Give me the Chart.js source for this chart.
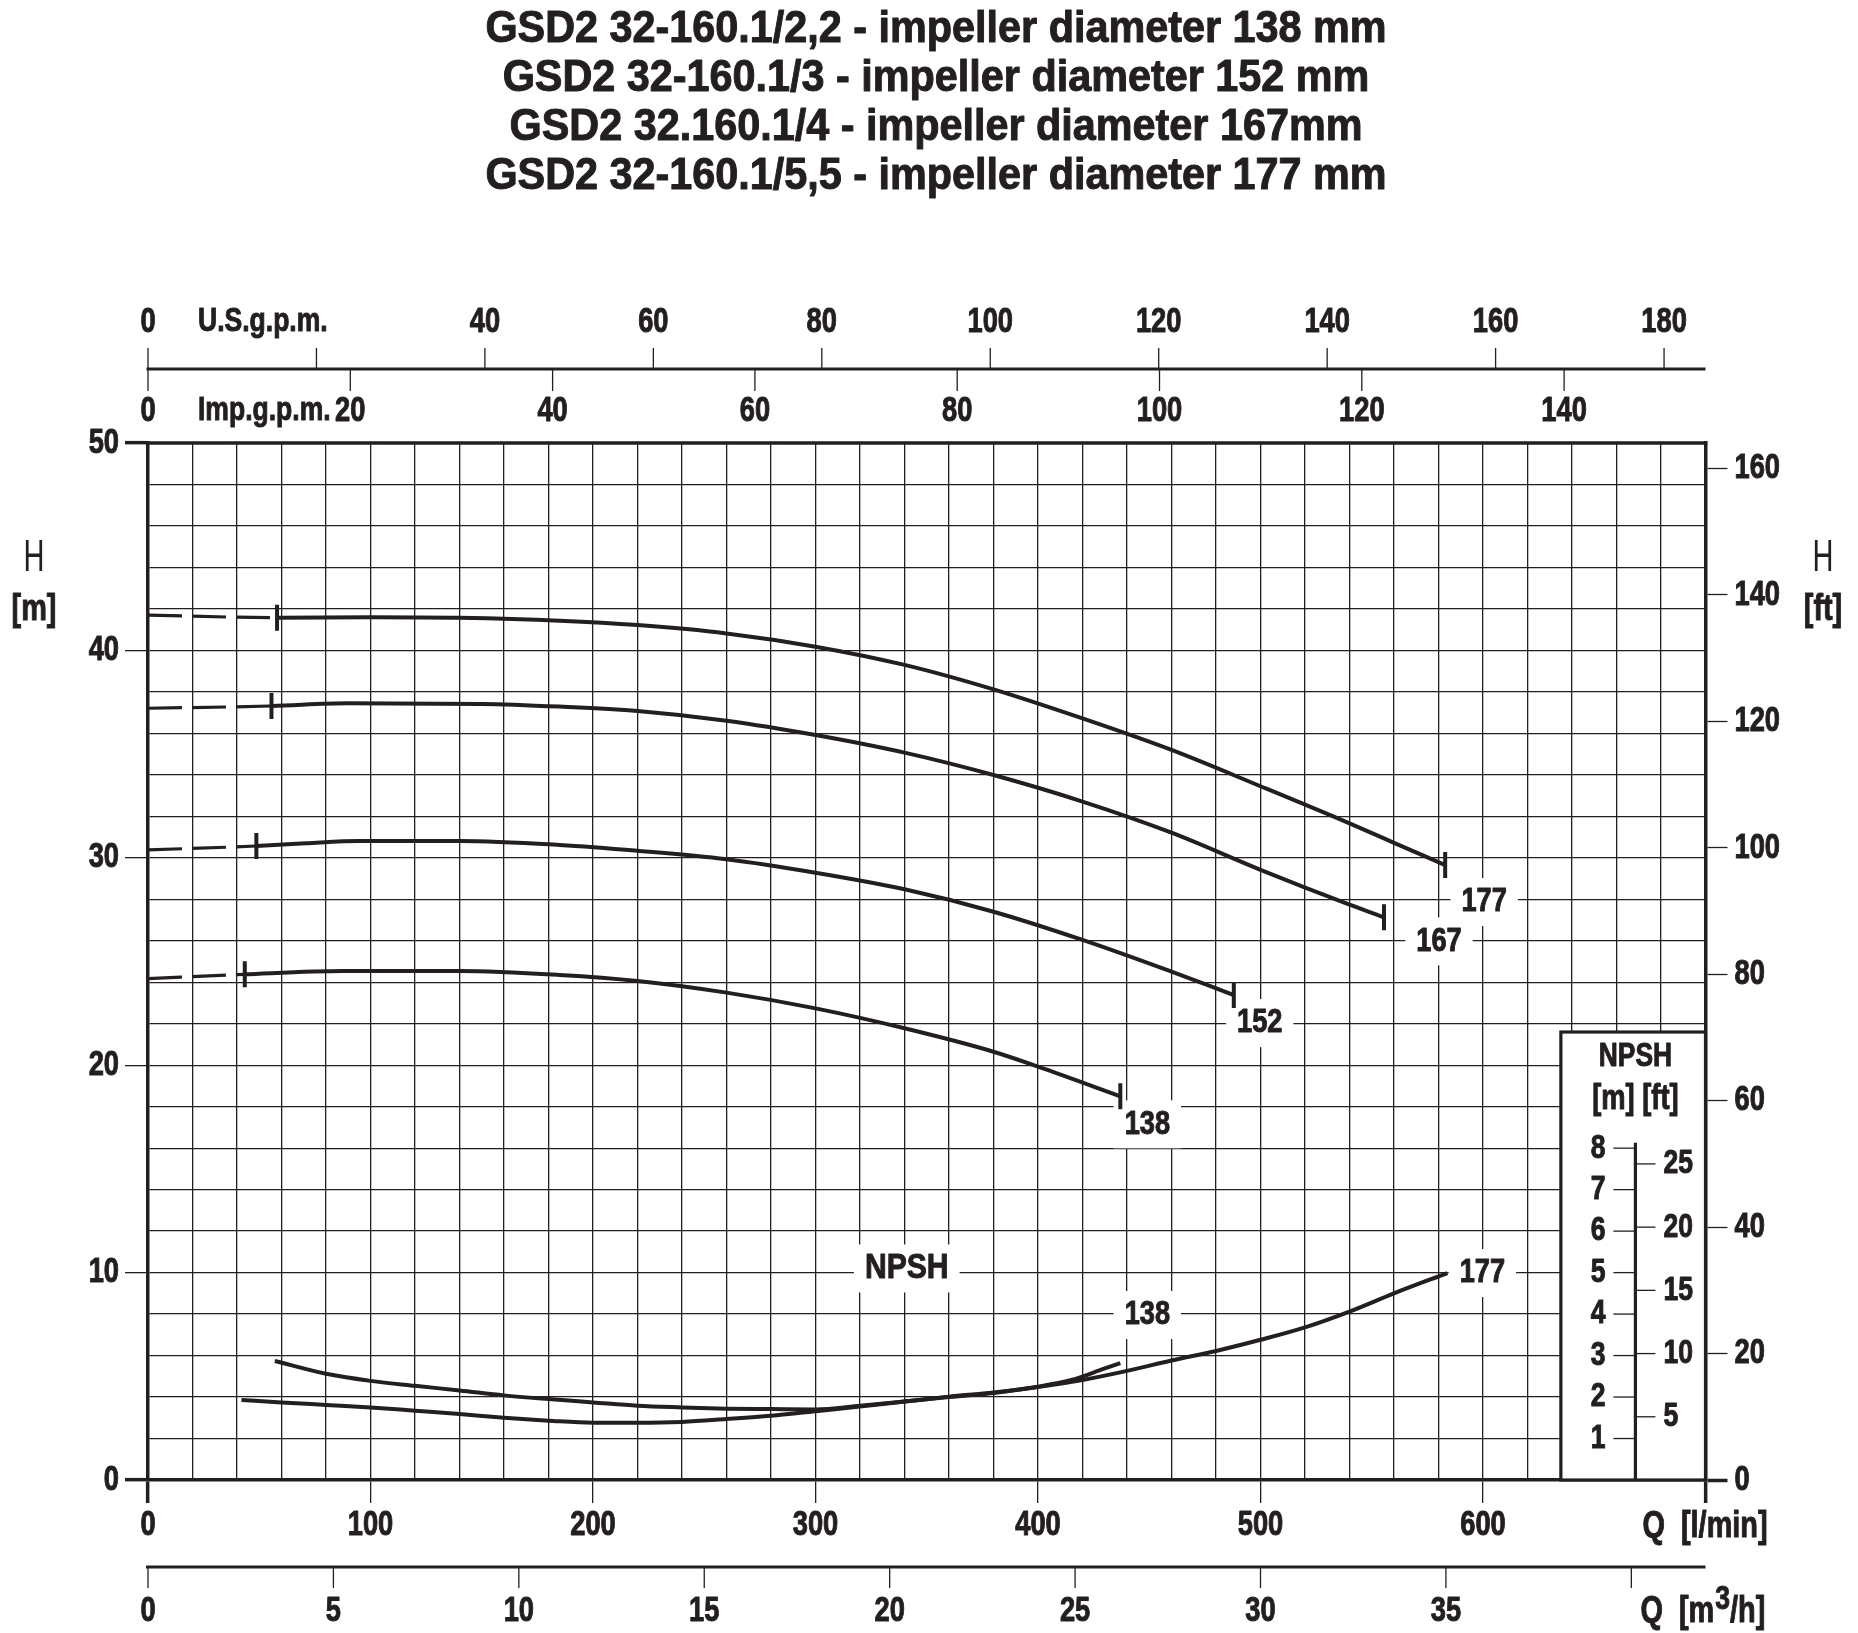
<!DOCTYPE html>
<html>
<head>
<meta charset="utf-8">
<title>GSD2 32-160.1 - pump curves</title>
<script src="https://cdn.jsdelivr.net/npm/chart.js@4.4.1/dist/chart.umd.min.js"></script>
<style>
  html, body { margin: 0; padding: 0; background: #fff; }
  #wrap { width: 1858px; height: 1633px; }
</style>
</head>
<body>
<div id="wrap"><canvas id="pumpChart" width="1858" height="1633"></canvas></div>
<script>
// --- DATA --- //
const titleLines = [
  "GSD2 32-160.1/2,2 - impeller diameter 138 mm",
  "GSD2 32-160.1/3 - impeller diameter 152 mm",
  "GSD2 32.160.1/4 - impeller diameter 167mm",
  "GSD2 32-160.1/5,5 - impeller diameter 177 mm"
];

// head curves: Q [l/min] -> H [m]  (first segment = dashed part)
const q177 = [0, 58, 100, 140, 185, 220, 260, 300, 340, 380, 420, 460, 500, 540, 560, 583];
const h177 = [41.7, 41.58, 41.6, 41.57, 41.43, 41.22, 40.82, 40.18, 39.3, 38.12, 36.72, 35.2, 33.45, 31.66, 30.72, 29.65];
const q167 = [0, 55.5, 90, 150, 185, 220, 260, 300, 340, 380, 420, 460, 500, 540, 555.5];
const h167 = [37.21, 37.32, 37.45, 37.42, 37.29, 37.08, 36.61, 35.92, 35.07, 33.99, 32.71, 31.21, 29.42, 27.74, 27.13];
const q152 = [0, 48.7, 71, 95, 140, 185, 220, 260, 300, 340, 380, 420, 460, 488];
const h152 = [30.38, 30.57, 30.7, 30.81, 30.81, 30.62, 30.34, 29.93, 29.28, 28.48, 27.4, 26.04, 24.51, 23.38];
const q138 = [0, 43.5, 88, 140, 185, 220, 260, 300, 340, 380, 400, 437];
const h138 = [24.17, 24.38, 24.54, 24.54, 24.35, 24.06, 23.5, 22.74, 21.78, 20.65, 19.93, 18.5];

// NPSH curves: Q [l/min] -> NPSH [m]
const qNpsh177 = [57, 80, 100, 120, 140, 160, 180, 200, 220, 240, 260, 280, 300, 320, 340, 360, 380, 400, 420, 440, 460, 480, 500, 520, 540, 560, 584];
const npsh177 = [2.87, 2.56, 2.39, 2.27, 2.16, 2.04, 1.95, 1.87, 1.79, 1.75, 1.72, 1.71, 1.7, 1.79, 1.89, 2.0, 2.1, 2.24, 2.41, 2.63, 2.88, 3.11, 3.38, 3.68, 4.06, 4.5, 4.99];
const qNpsh138 = [42, 60, 80, 100, 120, 140, 160, 180, 200, 220, 240, 260, 280, 300, 320, 340, 360, 380, 400, 415, 430, 437];
const npsh138 = [1.93, 1.87, 1.81, 1.75, 1.67, 1.59, 1.5, 1.43, 1.38, 1.38, 1.4, 1.47, 1.55, 1.66, 1.77, 1.89, 2.01, 2.11, 2.25, 2.41, 2.69, 2.82];

// secondary axes
const usGpmTicks = [0, 20, 40, 60, 80, 100, 120, 140, 160, 180];
const impGpmTicks = [0, 20, 40, 60, 80, 100, 120, 140];
const m3hTicks = [0, 5, 10, 15, 20, 25, 30, 35, 40];
const npshMTicks = [1, 2, 3, 4, 5, 6, 7, 8];
const npshFtTicks = [5, 10, 15, 20, 25];

const L_PER_USGAL = 3.78541;
const L_PER_IMPGAL = 4.54609;
const M_PER_FT = 0.3048;

// --- STYLE --- //
const INK = "#231f20";
const FAMILY = '"Liberation Sans", Arial, sans-serif';
const SQ = 0.78;               // horizontal squeeze -> condensed look
const fnt = (size, weight) => (weight || "bold") + " " + size + "px " + FAMILY;

// label offsets from the curve end point (px)
const headLabelOffset = { "177": [39, 37], "167": [55, 24], "152": [26, 28], "138": [27, 28] };
const npshLabelOffset = { "177": [35, 0], "138": [27, -48] };

function seg(ctx, x1, y1, x2, y2, w) {
  ctx.beginPath();
  ctx.lineWidth = w;
  ctx.moveTo(x1, y1);
  ctx.lineTo(x2, y2);
  ctx.stroke();
}

// condensed text: scaled horizontally around the anchor, bold ones a bit heavier
function txt(ctx, s, x, y, align, f, sq) {
  ctx.save();
  ctx.font = f;
  ctx.textAlign = align;
  ctx.textBaseline = "middle";
  ctx.fillStyle = INK;
  ctx.strokeStyle = INK;
  ctx.lineJoin = "round";
  ctx.translate(x, y);
  ctx.scale(sq || SQ, 1);
  ctx.fillText(s, 0, 0);
  if (f.indexOf("bold") === 0) {
    ctx.lineWidth = 1;
    ctx.strokeText(s, 0, 0);
  }
  ctx.restore();
}

function txtWidth(ctx, s, f, sq) {
  ctx.save();
  ctx.font = f;
  const w = ctx.measureText(s).width * (sq || SQ);
  ctx.restore();
  return w;
}

function maskedTxt(ctx, s, x, y, f, sq) {
  const w = txtWidth(ctx, s, f, sq);
  ctx.save();
  ctx.fillStyle = "#fff";
  ctx.fillRect(x - w / 2 - 11, y - 24, w + 22, 48);
  ctx.restore();
  txt(ctx, s, x, y, "center", f, sq);
}

function headDataset(label, q, h) {
  const last = q.length - 1;
  return {
    label: label,
    data: q.map((x, i) => ({ x: x, y: h[i] })),
    yAxisID: "y",
    borderColor: INK,
    borderWidth: 4,
    fill: false,
    cubicInterpolationMode: "monotone",
    segment: {
      borderDash: c => c.p0DataIndex === 0 ? [34, 10] : undefined,
      borderWidth: c => c.p0DataIndex === 0 ? 3.2 : 4
    },
    pointStyle: "line",
    pointRotation: 90,
    pointRadius: c => (c.dataIndex === 1 || c.dataIndex === last) ? 13 : 0,
    pointHoverRadius: 0,
    pointBorderWidth: 4,
    pointBorderColor: INK,
    pointBackgroundColor: INK
  };
}

function npshDataset(label, q, n) {
  return {
    label: "NPSH " + label,
    data: q.map((x, i) => ({ x: x, y: n[i] })),
    yAxisID: "npsh",
    borderColor: INK,
    borderWidth: 4,
    fill: false,
    cubicInterpolationMode: "monotone",
    pointRadius: 0,
    pointHoverRadius: 0
  };
}

// --- DECOR PLUGIN (title, tick labels, extra axes, NPSH box) --- //
const pumpDecor = {
  id: "pumpDecor",
  beforeDatasetsDraw(chart) {
    const ctx = chart.ctx;
    const xs = chart.scales.x, ys = chart.scales.y, ns = chart.scales.npsh;
    ctx.save();
    ctx.strokeStyle = INK;

    // labels at the end of the curves
    chart.data.datasets.forEach(ds => {
      const p = ds.data[ds.data.length - 1];
      if (ds.yAxisID === "y") {
        const o = headLabelOffset[ds.label];
        maskedTxt(ctx, ds.label, xs.getPixelForValue(p.x) + o[0], ys.getPixelForValue(p.y) + o[1], fnt(34), 0.8);
      } else {
        const key = ds.label.replace("NPSH ", "");
        const o = npshLabelOffset[key];
        maskedTxt(ctx, key, xs.getPixelForValue(p.x) + o[0], ns.getPixelForValue(p.y) + o[1], fnt(34), 0.8);
      }
    });
    maskedTxt(ctx, "NPSH", xs.getPixelForValue(341), ys.getPixelForValue(10.2), fnt(35), 0.86);

    // NPSH inset box
    const bx = xs.getPixelForValue(635), by = ys.getPixelForValue(21.6);
    const br = chart.chartArea.right, bb = chart.chartArea.bottom;
    ctx.fillStyle = "#fff";
    ctx.fillRect(bx, by, br - bx, bb - by);
    ctx.strokeStyle = INK;
    ctx.lineWidth = 3.2;
    ctx.strokeRect(bx, by, br - bx, bb - by);
    const ax = xs.getPixelForValue(668.5);
    seg(ctx, ax, ns.getPixelForValue(8.13), ax, bb, 3.2);
    txt(ctx, "NPSH", ax, by + 25, "center", fnt(33), 0.8);
    txt(ctx, "[m] [ft]", ax, by + 67, "center", fnt(35));
    npshMTicks.forEach(v => {
      const y = ns.getPixelForValue(v);
      seg(ctx, ax - 22, y, ax, y, 1.3);
      txt(ctx, String(v), ax - 30, y, "right", fnt(34));
    });
    npshFtTicks.forEach(v => {
      const y = ns.getPixelForValue(v * M_PER_FT);
      seg(ctx, ax, y, ax + 20, y, 1.3);
      txt(ctx, String(v), ax + 28, y, "left", fnt(34));
    });
    ctx.restore();
  },
  afterDraw(chart) {
    const ctx = chart.ctx;
    const xs = chart.scales.x, ys = chart.scales.y, fs = chart.scales.ft;
    const a = chart.chartArea;
    ctx.save();
    ctx.strokeStyle = INK;

    // title
    titleLines.forEach((s, i) => txt(ctx, s, chart.width / 2 + 7, 30 + i * 49, "center", fnt(44), 0.94));

    // main axis tick labels
    ys.ticks.forEach(t => {
      if (t.value % 10 === 0) txt(ctx, String(t.value), a.left - 29, ys.getPixelForValue(t.value), "right", fnt(35));
    });
    xs.ticks.forEach(t => {
      if (t.value % 100 === 0 && t.value < 700) txt(ctx, String(t.value), xs.getPixelForValue(t.value), a.bottom + 45, "center", fnt(35));
    });
    fs.ticks.forEach(t => {
      txt(ctx, String(t.value), a.right + 29, fs.getPixelForValue(t.value), "left", fnt(35));
    });

    // top border of the plot
    seg(ctx, a.left - 1.75, a.top, a.right + 1.75, a.top, 3.5);

    // gallon axes on top
    const gy = a.top - 74;
    seg(ctx, a.left - 1.5, gy, a.right, gy, 3.2);
    usGpmTicks.forEach(g => {
      const x = xs.getPixelForValue(g * L_PER_USGAL);
      seg(ctx, x, gy - 21, x, gy, 1.3);
      if (g !== 20) txt(ctx, String(g), x, gy - 47, "center", fnt(35));
    });
    txt(ctx, "U.S.g.p.m.", a.left + 50, gy - 47, "left", fnt(34));
    impGpmTicks.forEach(g => {
      const x = xs.getPixelForValue(g * L_PER_IMPGAL);
      seg(ctx, x, gy, x, gy + 22, 1.3);
      txt(ctx, String(g), x, gy + 42, "center", fnt(35));
    });
    txt(ctx, "Imp.g.p.m.", a.left + 50, gy + 42, "left", fnt(34));

    // m3/h axis below
    const my = a.bottom + 87;
    seg(ctx, a.left - 2, my, a.right, my, 3.2);
    m3hTicks.forEach(v => {
      const x = xs.getPixelForValue(v * 1000 / 60);
      seg(ctx, x, my, x, my + 21, 1.3);
      if (v !== 40) txt(ctx, String(v), x, my + 44, "center", fnt(35));
    });

    // unit labels
    txt(ctx, "Q  [l/min]", a.right - 63, a.bottom + 47, "left", fnt(37));
    let qx = a.right - 65;
    const qy = my + 45;
    txt(ctx, "Q  [m", qx, qy, "left", fnt(37));
    qx += txtWidth(ctx, "Q  [m", fnt(37));
    txt(ctx, "3", qx + 1, qy - 12, "left", fnt(34));
    qx += txtWidth(ctx, "3", fnt(34)) + 1;
    txt(ctx, "/h]", qx, qy, "left", fnt(37));

    txt(ctx, "H", 34, 559, "center", fnt(44, "normal"), 0.66);
    txt(ctx, "[m]", 34, 610, "center", fnt(37));
    txt(ctx, "H", 1823, 559, "center", fnt(44, "normal"), 0.66);
    txt(ctx, "[ft]", 1823, 610, "center", fnt(37));
    ctx.restore();
  }
};

const none = "rgba(0,0,0,0)";

new Chart(document.getElementById("pumpChart"), {
  type: "line",
  data: {
    datasets: [
      headDataset("177", q177, h177),
      headDataset("167", q167, h167),
      headDataset("152", q152, h152),
      headDataset("138", q138, h138),
      npshDataset("177", qNpsh177, npsh177),
      npshDataset("138", qNpsh138, npsh138)
    ]
  },
  options: {
    responsive: false,
    animation: false,
    devicePixelRatio: 1,
    events: [],
    layout: { padding: { top: 443, left: 0, right: 0, bottom: 0 } },
    plugins: {
      legend: { display: false },
      tooltip: { enabled: false },
      title: { display: false }
    },
    scales: {
      x: {
        type: "linear", position: "bottom", min: 0, max: 700,
        ticks: { display: false, stepSize: 20, maxTicksLimit: 100, autoSkip: false },
        grid: {
          color: INK, lineWidth: 1.3, tickLength: 23,
          tickColor: c => (c.tick && c.tick.value % 100 === 0) ? INK : none,
          tickWidth: c => (c.tick && (c.tick.value === 0 || c.tick.value === 700)) ? 3.5 : 1.3
        },
        border: { display: true, color: INK, width: 3.5 },
        afterFit: s => { s.height = 153; }
      },
      y: {
        position: "left", min: 0, max: 50,
        ticks: { display: false, stepSize: 2, maxTicksLimit: 100, autoSkip: false },
        grid: {
          color: INK, lineWidth: 1.3, tickLength: 23,
          tickColor: c => (c.tick && c.tick.value % 10 === 0) ? INK : none,
          tickWidth: c => (c.tick && (c.tick.value === 0 || c.tick.value === 50)) ? 3.5 : 1.3
        },
        border: { display: true, color: INK, width: 3.5 },
        afterFit: s => { s.width = 148; }
      },
      ft: {
        position: "right", min: 0, max: 50 / M_PER_FT,
        ticks: { display: false, stepSize: 20, includeBounds: false, maxTicksLimit: 100 },
        grid: {
          drawOnChartArea: false, tickLength: 22, color: INK,
          tickColor: INK,
          tickWidth: c => (c.tick && c.tick.value === 0) ? 3.5 : 1.3
        },
        border: { display: true, color: INK, width: 3.5 },
        afterFit: s => { s.width = 152.5; }
      },
      npsh: { position: "left", display: false, min: 0, max: 25 }
    }
  },
  plugins: [pumpDecor]
});
</script>
</body>
</html>
